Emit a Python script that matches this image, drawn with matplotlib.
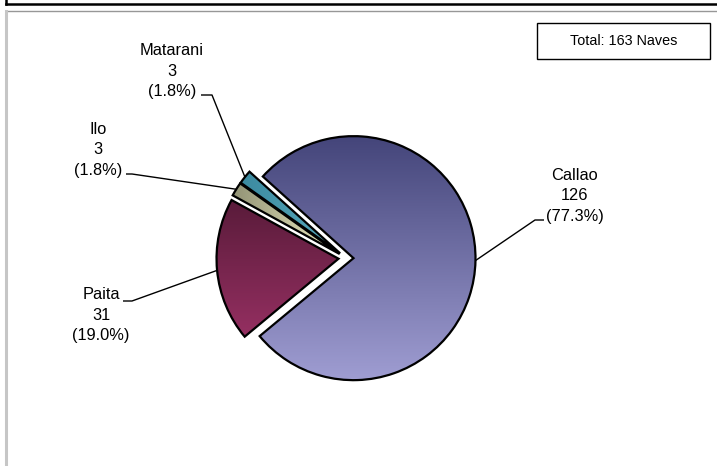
import numpy as np
import matplotlib
matplotlib.use("Agg")
import matplotlib.pyplot as plt
from matplotlib.colors import LinearSegmentedColormap
from matplotlib.patches import Rectangle
from matplotlib.lines import Line2D

plt.rcParams['font.family'] = ['Liberation Sans', 'DejaVu Sans']

# ---- data ----
categories = ['Callao', 'Paita', 'Ilo', 'Matarani']
values = [126, 31, 3, 3]
total_label = 'Total: 163 Naves'

# ---- layout (pixel units, image y measured from top) ----
W, H = 717, 466
def Y(y):
    return H - y

fig = plt.figure(figsize=(W / 100, H / 100), dpi=100)
ax = fig.add_axes([0, 0, 1, 1])

pie_center = (346, Y(258))
pie_radius = 122
explode_px = 7.5

wedges, _ = ax.pie(values, startangle=138, counterclock=False,
                   explode=[explode_px] * len(values), center=pie_center,
                   radius=pie_radius,
                   wedgeprops=dict(linewidth=1.6, edgecolor='black'))

# gradient fills: (color_a, color_b, direction)
grad = {
    'Callao': ('#9f9dd2', '#44457a', 'v'),     # bottom -> top
    'Paita': ('#a8366e', '#3e1228', 'v'),
    'Ilo': ('#85866a', '#efeec4', 'h'),         # left -> right
    'Matarani': ('#348399', '#5aaabd', 'h'),
}

total = sum(values)
for w, name, v in zip(wedges, categories, values):
    ca, cb, d = grad[name]
    cmap = LinearSegmentedColormap.from_list(name, [ca, cb])
    cx, cy = w.center
    r = w.r
    g = np.linspace(0, 1, 256)
    if d == 'v':
        arr = g.reshape(-1, 1)
        ext = [cx - r, cx + r, cy - r, cy + r]
    else:
        arr = g.reshape(1, -1)
        ext = [cx - r, cx, cy - r, cy + r]
    im = ax.imshow(arr, cmap=cmap, origin='lower', extent=ext,
                   aspect='auto', zorder=2, interpolation='bilinear')
    im.set_clip_path(w)
    w.set_facecolor('none')
    w.set_zorder(3)

# label positions (text center) and elbow (end of leader line)
label_pos = {
    'Callao': (575, 196),
    'Paita': (101, 315),
    'Ilo': (98, 150),
    'Matarani': (172, 71),
}
elbow = {
    'Callao': ((535, 220), (544, 220)),
    'Paita': ((132, 301), (123, 301)),
    'Ilo': ((132, 174), (126, 174)),
    'Matarani': ((212, 95), (201, 95)),
}

for w, name, v in zip(wedges, categories, values):
    mid = np.deg2rad((w.theta1 + w.theta2) / 2)
    cx, cy = w.center
    ax_pt = (cx + w.r * np.cos(mid), cy + w.r * np.sin(mid))
    (ex, ey), (hx, hy) = elbow[name]
    ax.plot([ax_pt[0], ex, hx], [ax_pt[1], Y(ey), Y(hy)], color='black',
            lw=1.0, zorder=4, solid_capstyle='butt')
    tx, ty = label_pos[name]
    pct = 100 * v / total
    ax.text(tx, Y(ty), f"{name}\n{v}\n({pct:.1f}%)", ha='center', va='center',
            fontsize=11.8, linespacing=1.45, color='black', zorder=5)

# frames (figure-level lines)
fig.add_artist(Line2D([6 / W, 6 / W], [1, Y(3.5) / H], color='black', lw=1.8))
fig.add_artist(Line2D([6 / W, 1], [Y(3.5) / H, Y(3.5) / H], color='black', lw=1.8))
fig.add_artist(Line2D([6 / W, 1], [Y(11) / H, Y(11) / H], color='#979797', lw=1.0))
fig.add_artist(Line2D([6.5 / W, 6.5 / W], [Y(11) / H, 0], color='#c6c6c6', lw=2.2))

# total box
ax.add_patch(Rectangle((537, Y(59)), 173, 36, facecolor='white',
                       edgecolor='black', lw=1.0, zorder=6))
ax.text(623.5, Y(41), total_label, ha='center', va='center', fontsize=10.4,
        zorder=7)

ax.set_xlim(0, W)
ax.set_ylim(0, H)
ax.set_aspect('auto')
ax.axis('off')

fig.savefig('out.png', dpi=100)
